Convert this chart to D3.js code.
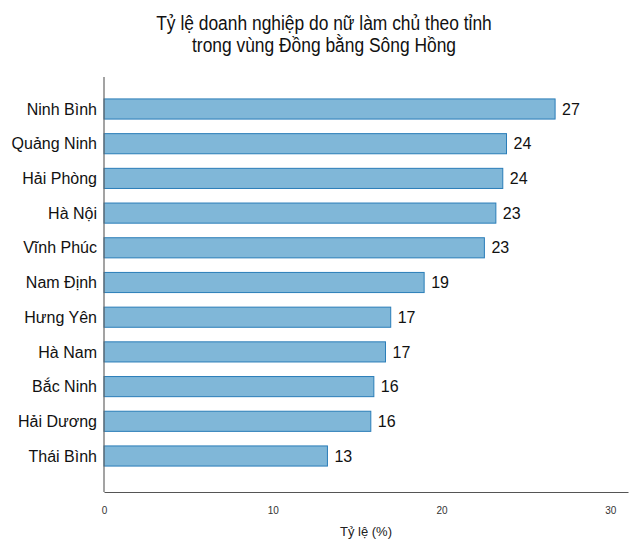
<!DOCTYPE html>
<html>
<head>
<meta charset="utf-8">
<script src="https://cdn.jsdelivr.net/npm/d3@7"></script>
<style>
  html, body { margin: 0; padding: 0; background: #fff; }
  svg { display: block; font-family: "Liberation Sans", Arial, sans-serif; }
</style>
</head>
<body>
<svg id="chart" width="633" height="544"></svg>
<script>
// Provinces of the Red River Delta, top to bottom
const provinces = ["Ninh Bình", "Quảng Ninh", "Hải Phòng", "Hà Nội", "Vĩnh Phúc",
  "Nam Định", "Hưng Yên", "Hà Nam", "Bắc Ninh", "Hải Dương", "Thái Bình"];
// Share of enterprises owned by women (%)
const shares = [26.73, 23.85, 23.63, 23.22, 22.54, 18.97, 16.99, 16.68, 15.99, 15.81, 13.24];
const xTicks = [0, 10, 20, 30];
const titleLines = ["Tỷ lệ doanh nghiệp do nữ làm chủ theo tỉnh", "trong vùng Đồng bằng Sông Hồng"];
const xLabel = "Tỷ lệ (%)";

const data = provinces.map((p, i) => ({ name: p, value: shares[i] }));

const svg = d3.select("#chart");

const plotLeft = 104, plotRight = 628, plotTop = 77, plotBottom = 492;

const x = d3.scaleLinear().domain([0, 31.05]).range([plotLeft, plotRight]);
const y = d3.scaleBand()
  .domain(provinces)
  .range([91.65, 473.35])
  .paddingInner(0.42)
  .paddingOuter(0.21);

// Title (slightly condensed face)
const titleX = 324;
svg.append("g")
  .attr("transform", `translate(${titleX},0) scale(0.87,1)`)
  .append("text")
  .attr("x", 0).attr("y", 30)
  .attr("text-anchor", "middle")
  .attr("font-size", 20)
  .attr("fill", "#111")
  .selectAll("tspan")
  .data(titleLines)
  .join("tspan")
  .attr("x", 0)
  .attr("dy", (d, i) => i === 0 ? 0 : 22)
  .text(d => d);

// Bars
svg.append("g")
  .selectAll("rect")
  .data(data)
  .join("rect")
  .attr("x", x(0))
  .attr("y", d => y(d.name))
  .attr("width", d => x(d.value) - x(0))
  .attr("height", y.bandwidth())
  .attr("fill", "#80b7d8")
  .attr("stroke", "#2a7db8")
  .attr("stroke-width", 1);

// Value labels
svg.append("g")
  .selectAll("text")
  .data(data)
  .join("text")
  .attr("x", d => x(d.value) + 7)
  .attr("y", d => y(d.name) + y.bandwidth() / 2)
  .attr("dy", "0.35em")
  .attr("font-size", 16)
  .attr("fill", "#111")
  .text(d => d3.format(".0f")(d.value));

// Category labels
svg.append("g")
  .selectAll("text")
  .data(data)
  .join("text")
  .attr("x", plotLeft - 7)
  .attr("y", d => y(d.name) + y.bandwidth() / 2)
  .attr("dy", "0.35em")
  .attr("text-anchor", "end")
  .attr("font-size", 16)
  .attr("fill", "#111")
  .text(d => d.name);

// Left axis line
svg.append("line")
  .attr("x1", plotLeft).attr("x2", plotLeft)
  .attr("y1", plotTop).attr("y2", plotBottom)
  .attr("stroke", "#666").attr("stroke-width", 1.2);

// Bottom axis
const xAxis = svg.append("g")
  .attr("transform", `translate(0,${plotBottom})`)
  .call(d3.axisBottom(x).tickValues(xTicks).tickSize(0).tickPadding(15));
xAxis.select(".domain").attr("stroke", "#555").attr("stroke-width", 1.2);
xAxis.selectAll("text")
  .attr("font-size", 10)
  .attr("font-family", "\"Liberation Sans\", Arial, sans-serif")
  .attr("fill", "#333");

// Axis title
svg.append("text")
  .attr("x", (plotLeft + plotRight) / 2)
  .attr("y", 536)
  .attr("text-anchor", "middle")
  .attr("font-size", 13)
  .attr("fill", "#222")
  .text(xLabel);
</script>
</body>
</html>
